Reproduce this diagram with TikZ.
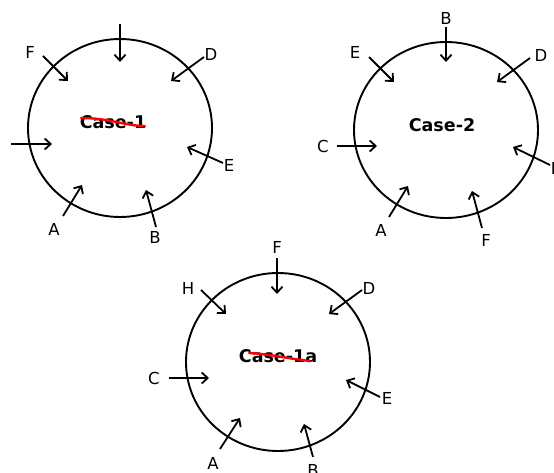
\documentclass[tikz,border=0pt]{standalone}
\usepackage{fontspec}
\setmainfont{DejaVu Sans}
\usetikzlibrary{arrows.meta}

\tikzset{
    ring/.style={draw, line width=1.9pt},
    inarrow/.style={-{Straight Barb[length=6pt,width=11pt]}, line width=1.8pt},
    lbl/.style={font=\fontsize{16.5}{17}\selectfont, inner sep=0pt},
    casetext/.style={font=\bfseries\fontsize{17.5}{18}\selectfont, inner sep=0pt},
    strike/.style={draw=red, line width=2.4pt, line cap=round},
}

\begin{document}
\begin{tikzpicture}[x=1pt, y=-1pt]
    \useasboundingbox (0,0) rectangle (554,473);

    % Case-1
    \coordinate (c1) at (120,128);
    \draw[ring] (c1) ellipse [x radius=92, y radius=89];
    \node[casetext] (t1) at (113,122) {Case-1};
    \draw[strike] (81,118) .. controls (110,118) and (125,126) .. (145,126);
    % arrows
    \coordinate (c1Ta) at (120,24);  \coordinate (c1Tb) at (120,62);
    \coordinate (c1La) at (11,144);  \coordinate (c1Lb) at (52,144);
    \node[lbl] (c1F) at (30,52) {F};
    \coordinate (c1Fa) at (43,56);   \coordinate (c1Fb) at (68,81);
    \node[lbl] (c1D) at (211,54) {D};
    \coordinate (c1Da) at (204,57);  \coordinate (c1Db) at (171,81);
    \node[lbl] (c1E) at (229,165) {E};
    \coordinate (c1Ea) at (223,163); \coordinate (c1Eb) at (187,147);
    \node[lbl] (c1A) at (54,229) {A};
    \coordinate (c1Aa) at (63,216);  \coordinate (c1Ab) at (82,185);
    \node[lbl] (c1B) at (155,237) {B};
    \coordinate (c1Ba) at (156,227); \coordinate (c1Bb) at (146,190);
    \foreach \n in {T,L,F,D,E,A,B}
        \draw[inarrow] (c1\n a) -- (c1\n b);

    % Case-2
    \coordinate (c2) at (446,130);
    \draw[ring] (c2) ellipse [x radius=92, y radius=88];
    \node[casetext] (t2) at (442,125) {Case-2};
    % arrows
    \node[lbl] (c2B) at (446,18) {B};
    \coordinate (c2Ba) at (446,27);  \coordinate (c2Bb) at (446,62);
    \node[lbl] (c2E) at (355,52) {E};
    \coordinate (c2Ea) at (369,57);  \coordinate (c2Eb) at (394,82);
    \node[lbl] (c2D) at (541,55) {D};
    \coordinate (c2Da) at (530,58);  \coordinate (c2Db) at (497,82);
    \node[lbl] (c2C) at (323,146) {C};
    \coordinate (c2Ca) at (337,146); \coordinate (c2Cb) at (377,146);
    \node[lbl] (c2H) at (557,168) {H};
    \coordinate (c2Ha) at (550,165); \coordinate (c2Hb) at (513,147);
    \node[lbl] (c2A) at (381,230) {A};
    \coordinate (c2Aa) at (389,217); \coordinate (c2Ab) at (408,186);
    \node[lbl] (c2F) at (486,240) {F};
    \coordinate (c2Fa) at (482,228); \coordinate (c2Fb) at (472,191);
    \foreach \n in {B,E,D,C,H,A,F}
        \draw[inarrow] (c2\n a) -- (c2\n b);

    % Case-1a
    \coordinate (c3) at (278,362);
    \draw[ring] (c3) ellipse [x radius=92, y radius=89];
    \node[casetext] (t3) at (278,356) {Case-1a};
    \draw[strike] (249,353) .. controls (270,354) and (290,359) .. (310,361);
    % arrows
    \node[lbl] (c3F) at (277,247) {F};
    \coordinate (c3Fa) at (277,258); \coordinate (c3Fb) at (277,294);
    \node[lbl] (c3H) at (188,288) {H};
    \coordinate (c3Ha) at (201,290); \coordinate (c3Hb) at (226,314);
    \node[lbl] (c3D) at (369,288) {D};
    \coordinate (c3Da) at (362,290); \coordinate (c3Db) at (329,314);
    \node[lbl] (c3C) at (154,378) {C};
    \coordinate (c3Ca) at (169,378); \coordinate (c3Cb) at (209,378);
    \node[lbl] (c3E) at (387,398) {E};
    \coordinate (c3Ea) at (380,397); \coordinate (c3Eb) at (346,380);
    \node[lbl] (c3A) at (213,463) {A};
    \coordinate (c3Aa) at (220,449); \coordinate (c3Ab) at (240,418);
    \node[lbl] (c3B) at (313,470) {B};
    \coordinate (c3Ba) at (313,457); \coordinate (c3Bb) at (304,424);
    \foreach \n in {F,H,D,C,E,A,B}
        \draw[inarrow] (c3\n a) -- (c3\n b);
\end{tikzpicture}
\end{document}
